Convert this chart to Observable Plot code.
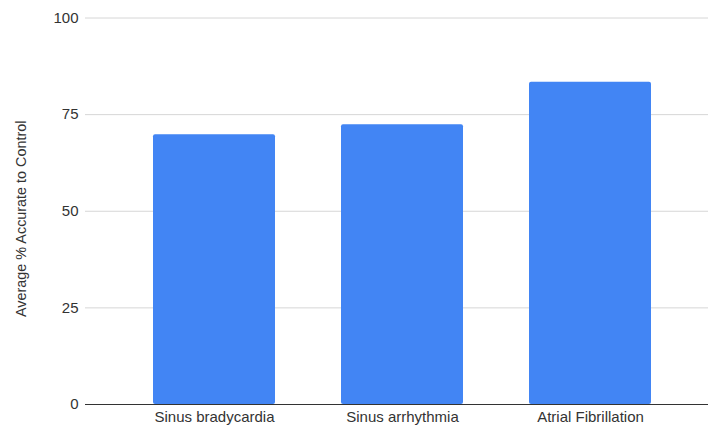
<!DOCTYPE html>
<html>
<head>
<meta charset="utf-8">
<script src="https://cdn.jsdelivr.net/npm/d3@7"></script>
<script src="https://cdn.jsdelivr.net/npm/@observablehq/plot@0.6"></script>
<style>
  html, body { margin: 0; padding: 0; background: #fff; }
  svg { font-family: Arial, "Liberation Sans", sans-serif; }
</style>
</head>
<body>
<div id="chart"></div>
<script>
const categories = ["Sinus bradycardia", "Sinus arrhythmia", "Atrial Fibrillation"];
const values = [69.8, 72.4, 83.4];
const yTicks = [0, 25, 50, 75, 100];
const yLabel = "Average % Accurate to Control";

const data = categories.map((c, i) => ({category: c, value: values[i]}));

const chart = Plot.plot({
  width: 709,
  height: 430,
  marginLeft: 85,
  marginRight: 1,
  marginTop: 17.5,
  marginBottom: 26,
  style: {fontSize: "15px", fontFamily: "Arial, 'Liberation Sans', sans-serif", color: "#333", background: "#fff"},
  x: {domain: categories, range: [119, 685.5], paddingInner: 0.35, paddingOuter: 0.175},
  y: {domain: [0, 100]},
  marks: [
    Plot.ruleY(yTicks.filter(d => d > 0), {stroke: "#d6d6d6", strokeWidth: 1}),
    Plot.barY(data, {x: "category", y: "value", fill: "#4285F4", rx: 2}),
    Plot.ruleY([0], {stroke: "#333", strokeWidth: 1}),
    Plot.axisX({tickSize: 0, tickPadding: 7, label: null, fill: "#333"}),
    Plot.axisY({ticks: yTicks, tickSize: 0, tickPadding: 7, label: null, fill: "#333"}),
    Plot.text([yLabel], {text: d => d, frameAnchor: "left", rotate: -90, dx: -60, dy: 7.5, fontSize: 14.4, textAnchor: "middle", lineAnchor: "bottom", fill: "#333"})
  ]
});
document.getElementById("chart").appendChild(chart);
</script>
</body>
</html>
